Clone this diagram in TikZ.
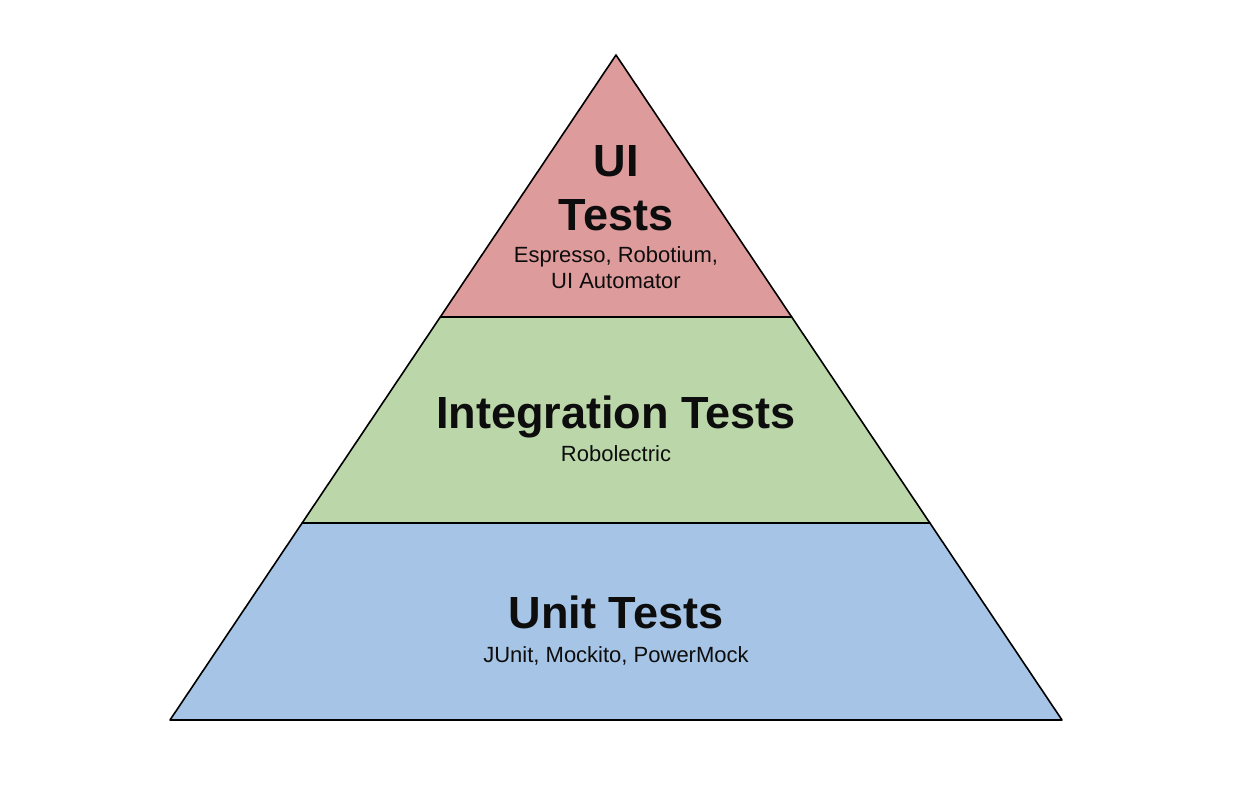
\documentclass[tikz,border=0pt]{standalone}
\usepackage{fontspec}
\setmainfont{Liberation Sans}
\definecolor{uired}{RGB}{222,155,155}
\definecolor{intgreen}{RGB}{187,215,170}
\definecolor{unitblue}{RGB}{166,196,229}

\begin{document}
\begin{tikzpicture}[x=0.75pt,y=-0.75pt,line cap=round,line join=round,every node/.style={inner sep=0pt,anchor=base,text=black!95},
  layertitle/.style={font=\fontsize{33.8}{36}\selectfont\bfseries},
  layertools/.style={font=\fontsize{16.5}{20}\selectfont}]
  \useasboundingbox (0,0) rectangle (1238,804);
  % layers, top to bottom
  \fill[uired] (616,55) -- (791.7,317) -- (440.3,317) -- cycle;
  \fill[intgreen] (440.3,317) -- (791.7,317) -- (929.9,523) -- (302.1,523) -- cycle;
  \fill[unitblue] (302.1,523) -- (929.9,523) -- (1062,720) -- (170,720) -- cycle;
  \draw[line width=1.2pt] (616,55) -- (1062,720) -- (170,720) -- cycle;
  \draw[line width=1.2pt] (440.3,317) -- (791.7,317) (302.1,523) -- (929.9,523);
  % labels
  \node[layertitle] (ui) at (616,176) {UI};
  \node[layertitle] (uitests) at (616,230) {Tests};
  \node[layertools] (uitools) at (616,262) {Espresso, Robotium,};
  \node[layertools] (uitoolsb) at (616,288) {UI Automator};
  \node[layertitle] (integration) at (616,428) {Integration Tests};
  \node[layertools] (integrationtools) at (616,461) {Robolectric};
  \node[layertitle] (unit) at (616,628) {Unit Tests};
  \node[layertools] (unittools) at (616,662) {JUnit, Mockito, PowerMock};
\end{tikzpicture}
\end{document}
